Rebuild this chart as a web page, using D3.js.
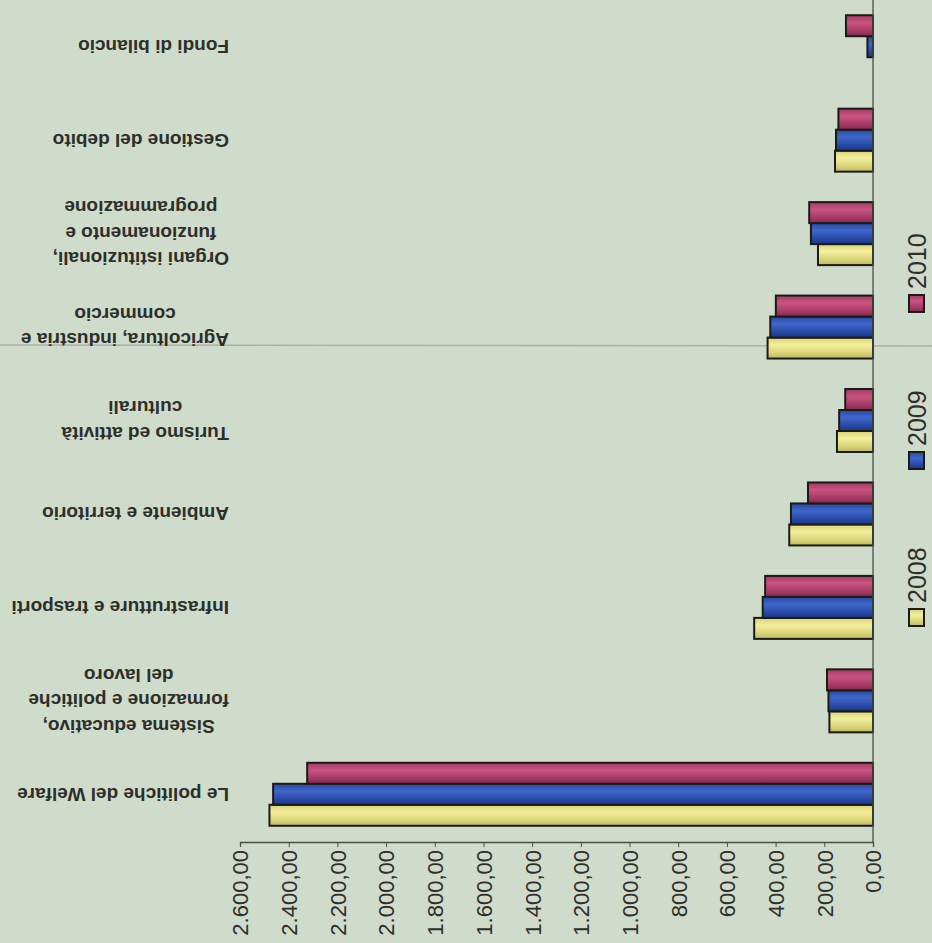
<!DOCTYPE html>
<html>
<head>
<meta charset="utf-8">
<script src="https://cdn.jsdelivr.net/npm/d3@7/dist/d3.min.js"></script>
<style>
  body { margin: 0; background: #cfdbcb; }
  svg { display: block; }
  .cat { font-family: "Liberation Sans", Arial, sans-serif; font-weight: bold; font-size: 19px; fill: #2e2e2a; }
  .tick text { font-family: "Liberation Sans", Arial, sans-serif; font-size: 22px; fill: #2e2e2a; }
  .leg { font-family: "Liberation Sans", Arial, sans-serif; font-size: 25px; fill: #2e2e2a; }
</style>
</head>
<body>
<svg id="chart" width="932" height="943"></svg>
<script>
// categories, bottom to top as they sit in the picture
var categories = [
  "Le politiche del Welfare",
  "Sistema educativo,\nformazione e politiche\ndel lavoro",
  "Infrastrutture e trasporti",
  "Ambiente e territorio",
  "Turismo ed attività\nculturali",
  "Agricoltura, industria e\ncommercio",
  "Organi istituzionali,\nfunzionamento e\nprogrammazione",
  "Gestione del debito",
  "Fondi di bilancio"
];
var years = ["2008", "2009", "2010"];
var values2008 = [2479, 179, 488, 344, 148, 433, 226, 156, 0];
var values2009 = [2464, 183, 453, 337, 139, 422, 255, 152, 23];
var values2010 = [2324, 189, 443, 267, 114, 399, 262, 142, 111];
var tickValues = [0, 200, 400, 600, 800, 1000, 1200, 1400, 1600, 1800, 2000, 2200, 2400, 2600];

var series = { "2008": values2008, "2009": values2009, "2010": values2010 };
var colors = {
  "2008": ["#bdb760", "#f3ef9c", "#d8d377"],
  "2009": ["#1c3585", "#3f67c9", "#2848a6"],
  "2010": ["#84284f", "#c9557f", "#a43966"]
};

var svg = d3.select("#chart");
var itFormat = d3.formatLocale({ decimal: ",", thousands: ".", grouping: [3], currency: ["€", ""] }).format(",.2f");

var axisY = 842;
var x = d3.scaleLinear().domain([0, 2600]).range([873, 240]);
var y = d3.scaleBand().domain(categories).range([841, 0]).paddingInner(0.326).paddingOuter(0.163);
var ySub = d3.scaleBand().domain(["2010", "2009", "2008"]).range([0, y.bandwidth()]);

// gradients for the shaded bars
var defs = svg.append("defs");
years.forEach(function(yr) {
  var g = defs.append("linearGradient").attr("id", "grad" + yr)
    .attr("x1", 0).attr("y1", 0).attr("x2", 0).attr("y2", 1);
  g.append("stop").attr("offset", "0%").attr("stop-color", colors[yr][2]);
  g.append("stop").attr("offset", "35%").attr("stop-color", colors[yr][1]);
  g.append("stop").attr("offset", "75%").attr("stop-color", colors[yr][2]);
  g.append("stop").attr("offset", "100%").attr("stop-color", colors[yr][0]);
});

// scan fold line
svg.append("line").attr("x1", 0).attr("x2", 932).attr("y1", 345).attr("y2", 346)
  .attr("stroke", "#97a396").attr("stroke-width", 1.5).attr("opacity", 0.7);

// bars
years.forEach(function(yr) {
  svg.append("g").selectAll("rect")
    .data(categories)
    .join("rect")
    .attr("x", function(d, i) { return x(series[yr][i]); })
    .attr("width", function(d, i) { return x(0) - x(series[yr][i]); })
    .attr("y", function(d) { return y(d) + ySub(yr); })
    .attr("height", ySub.bandwidth())
    .attr("fill", "url(#grad" + yr + ")")
    .attr("stroke", "#1b1b18")
    .attr("stroke-width", 2);
});

// vertical axis line at zero
svg.append("line").attr("x1", x(0)).attr("x2", x(0)).attr("y1", 0).attr("y2", axisY)
  .attr("stroke", "#4a4f4a").attr("stroke-width", 1.3);

// value axis
var axis = svg.append("g")
  .attr("transform", "translate(0," + axisY + ")")
  .call(d3.axisBottom(x).tickValues(tickValues).tickFormat(itFormat).tickSizeOuter(0).tickSize(5));
axis.select(".domain").attr("stroke", "#4a4f4a").attr("stroke-width", 1.3);
axis.selectAll(".tick line").attr("stroke", "#4a4f4a");
axis.selectAll(".tick text")
  .attr("transform", "rotate(-90)")
  .attr("x", -8).attr("y", 0).attr("dy", "0.36em")
  .attr("text-anchor", "end");

// category labels, upside down
var labelRight = 229, lineH = 25.5;
categories.forEach(function(c) {
  var lines = c.split("\n");
  var g = svg.append("g")
    .attr("transform", "translate(" + labelRight + "," + (y(c) + y.bandwidth() / 2) + ") rotate(180)");
  var texts = g.selectAll("text").data(lines).join("text")
    .attr("class", "cat")
    .attr("y", function(d, i) { return (i - (lines.length - 1) / 2) * lineH; })
    .attr("dy", "0.35em")
    .attr("text-anchor", "middle")
    .text(function(d) { return d; });
  var w = 0;
  texts.each(function() { w = Math.max(w, this.getComputedTextLength()); });
  texts.attr("x", w / 2);
});

// legend
years.forEach(function(yr, i) {
  var base = 626 - i * 157;
  svg.append("rect").attr("x", 909).attr("y", base - 17).attr("width", 15).attr("height", 17)
    .attr("fill", "url(#grad" + yr + ")").attr("stroke", "#1b1b18").attr("stroke-width", 2);
  svg.append("text").attr("class", "leg")
    .attr("transform", "translate(926," + (base - 23) + ") rotate(-90)")
    .attr("text-anchor", "start")
    .text(yr);
});
</script>
</body>
</html>
